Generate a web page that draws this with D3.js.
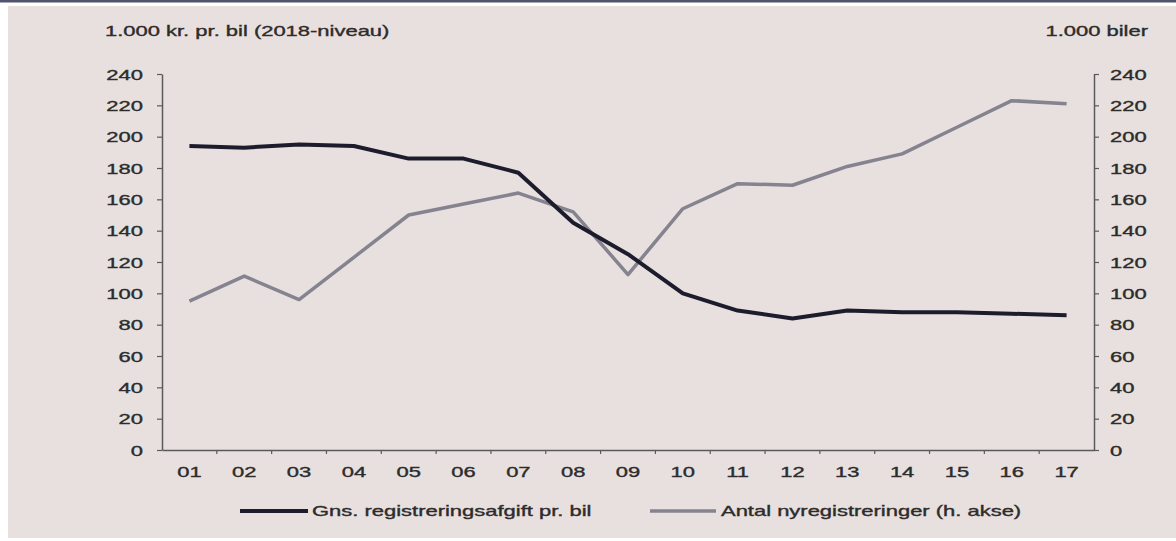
<!DOCTYPE html>
<html>
<head>
<meta charset="utf-8">
<script src="https://cdn.jsdelivr.net/npm/d3@7/dist/d3.min.js"></script>
<style>
  html, body { margin: 0; padding: 0; background: #ffffff; }
  svg { display: block; }
  text { font-family: "Liberation Sans", Arial, sans-serif; }
</style>
</head>
<body>
<svg id="chart" width="1176" height="541"></svg>
<script>
// Years (two-digit labels) on the x axis
const years = ["01","02","03","04","05","06","07","08","09","10","11","12","13","14","15","16","17"];
// Average registration tax per car, 1.000 kr. (2018 level) — left axis
const avgTax = [194, 193, 195, 194, 186, 186, 177, 145, 125, 100, 89, 84, 89, 88, 88, 87, 86];
// New registrations, 1.000 cars — right axis
const newRegs = [95, 111, 96, 123, 150, 157, 164, 152, 112, 154, 170, 169, 181, 189, 206, 223, 221];
// Axis ticks (shared by both axes)
const yTicks = [0, 20, 40, 60, 80, 100, 120, 140, 160, 180, 200, 220, 240];
const leftTitle = "1.000 kr. pr. bil (2018-niveau)";
const rightTitle = "1.000 biler";
const legendNames = ["Gns. registreringsafgift pr. bil", "Antal nyregistreringer (h. akse)"];

const svg = d3.select("#chart");
const W = 1176, H = 541;

// Text is set in a horizontally widened face
const FONT_SIZE = 14;
const STRETCH = 1.57;
const textColor = "#2c2c2c";
const axisColor = "#5a5a5a";

// Panel background with a dark rule along the top edge
svg.append("rect").attr("x", 0).attr("y", 0).attr("width", W).attr("height", H).attr("fill", "#ffffff");
svg.append("rect").attr("x", 8).attr("y", 6).attr("width", W - 8).attr("height", H - 9).attr("fill", "#e8e0df");
svg.append("rect").attr("x", 0).attr("y", 0).attr("width", W).attr("height", 2.5).attr("fill", "#50556c");

const plot = { left: 162, right: 1094, top: 74, bottom: 450 };

const x = d3.scaleBand().domain(years).range([plot.left, plot.right]).padding(0);
const yL = d3.scaleLinear().domain([0, 240]).range([plot.bottom, plot.top]);
const yR = d3.scaleLinear().domain([0, 240]).range([plot.bottom, plot.top]);

// Places a widened label with its anchor point at (px, py)
function wideText(sel, px, py, anchor) {
  return sel.attr("x", 0).attr("y", 0).attr("dy", null)
    .attr("text-anchor", anchor)
    .attr("transform", `translate(${px},${py}) scale(${STRETCH},1)`)
    .attr("fill", textColor)
    .attr("stroke", textColor)
    .attr("stroke-width", 0.35)
    .attr("font-size", FONT_SIZE)
    .attr("font-family", "Liberation Sans, Arial, sans-serif");
}

// Left axis
const gL = svg.append("g").attr("transform", `translate(${plot.left},0)`)
  .call(d3.axisLeft(yL).tickValues(yTicks).tickSize(5).tickSizeOuter(0));
gL.selectAll(".tick text").each(function () { wideText(d3.select(this), -19, 5, "end"); });

// Right axis
const gR = svg.append("g").attr("transform", `translate(${plot.right},0)`)
  .call(d3.axisRight(yR).tickValues(yTicks).tickSize(5).tickSizeOuter(0));
gR.selectAll(".tick text").each(function () { wideText(d3.select(this), 16, 5, "start"); });

// Bottom axis: labels centred in each year band
const gB = svg.append("g").attr("transform", `translate(0,${plot.bottom})`)
  .call(d3.axisBottom(x).tickSize(0));
gB.selectAll(".tick text").each(function () { wideText(d3.select(this), 0, 27, "middle"); });

[gL, gR, gB].forEach(g => {
  g.select(".domain").attr("stroke", axisColor).attr("stroke-width", 1.5);
  g.selectAll(".tick line").attr("stroke", axisColor).attr("stroke-width", 1.2);
});

// Category boundary ticks on the x axis
svg.append("g").selectAll("line")
  .data(years.slice(1))
  .join("line")
  .attr("x1", d => x(d)).attr("x2", d => x(d))
  .attr("y1", plot.bottom).attr("y2", plot.bottom + 4)
  .attr("stroke", axisColor).attr("stroke-width", 1.2);

// Axis titles
wideText(svg.append("text"), 105, 36, "start").text(leftTitle);
wideText(svg.append("text"), 1148, 36, "end").text(rightTitle);

const cx = d => x(d) + x.bandwidth() / 2;

// New registrations (grey, right axis)
svg.append("path")
  .datum(newRegs)
  .attr("fill", "none")
  .attr("stroke", "#85838f")
  .attr("stroke-width", 3.5)
  .attr("stroke-linejoin", "round")
  .attr("d", d3.line().x((d, i) => cx(years[i])).y(d => yR(d)));

// Average tax per car (dark, left axis)
svg.append("path")
  .datum(avgTax)
  .attr("fill", "none")
  .attr("stroke", "#1c1c2c")
  .attr("stroke-width", 4)
  .attr("stroke-linejoin", "round")
  .attr("d", d3.line().x((d, i) => cx(years[i])).y(d => yL(d)));

// Legend
const legend = [
  { name: legendNames[0], color: "#1c1c2c", width: 4, x1: 240, x2: 308, tx: 312 },
  { name: legendNames[1], color: "#85838f", width: 3.5, x1: 650, x2: 716, tx: 721 }
];
const lg = svg.append("g").selectAll("g").data(legend).join("g");
lg.append("line")
  .attr("x1", d => d.x1).attr("x2", d => d.x2)
  .attr("y1", 511).attr("y2", 511)
  .attr("stroke", d => d.color).attr("stroke-width", d => d.width);
lg.append("text").each(function (d) {
  wideText(d3.select(this), d.tx, 516, "start").text(d.name);
});
</script>
</body>
</html>
